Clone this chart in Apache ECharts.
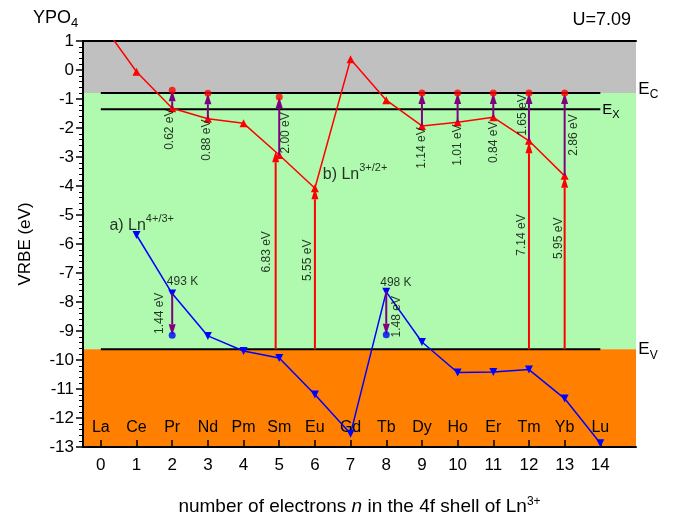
<!DOCTYPE html>
<html><head><meta charset="utf-8">
<script src="https://cdn.jsdelivr.net/npm/echarts@6/dist/echarts.min.js"></script>
<style>html,body{margin:0;padding:0;background:#fff}#c{width:680px;height:517px}</style>
</head><body><div id="c"></div>
<script>
// ---- data ----
const elements = ['La','Ce','Pr','Nd','Pm','Sm','Eu','Gd','Tb','Dy','Ho','Er','Tm','Yb','Lu'];
const nTicks = [0,1,2,3,4,5,6,7,8,9,10,11,12,13,14];
const EC = -0.79, EX = -1.35, EV = -9.63;
// Ln3+/2+ levels (n = 0..13)
const ln32N = [0,1,2,3,4,5,6,7,8,9,10,11,12,13];
const ln32Values = [1.65,-0.06,-1.32,-1.68,-1.84,-2.93,-4.08,0.37,-1.04,-1.93,-1.80,-1.63,-2.44,-3.65];
// Ln4+/3+ levels (n = 1..14)
const ln43N = [1,2,3,4,5,6,7,8,9,10,11,12,13,14];
const ln43Values = [-5.69,-7.71,-9.17,-9.69,-9.93,-11.19,-12.54,-7.65,-9.38,-10.43,-10.41,-10.33,-11.33,-12.87];
// Ln2+ -> CB transitions (purple up arrows)
const ctN = [2,3,5,9,10,11,12,13];
const ctEnergy = [0.62,0.88,2.00,1.14,1.01,0.84,1.65,2.86];
const ctLabelAt = [[1.94,-2.04],[2.96,-2.42],[5.17,-2.17],[8.98,-2.69],[9.99,-2.59],[11.0,-2.49],[11.82,-1.55],[13.25,-2.24]];
// VB -> Ln3+ charge transfer (red up arrows)
const vbN = [4.9,6,12,13];
const vbEnergy = [6.83,5.55,7.14,5.95];
const vbLabelAt = [[4.64,-6.27],[5.80,-6.56],[11.79,-5.69],[12.83,-5.80]];
// Ln3+ hole trap depths (purple down arrows)
const ivN = [2,8];
const ivEnergy = [1.44,1.48];
const ivLabelAt = [[1.64,-8.39],[8.30,-8.51]];
const ivTemp = ['493 K','498 K'];
const ivTempAt = [[2.29,-7.31],[8.27,-7.32]];

const FONT = '"Liberation Sans", Arial, sans-serif';
const X_MIN = -0.5, X_MAX = 15, Y_MIN = -13, Y_MAX = 1;

const ln32 = ln32N.map((n,i)=>[n, ln32Values[i]]);
const ln43 = ln43N.map((n,i)=>[n, ln43Values[i]]);
const v32 = n => ln32Values[ln32N.indexOf(n)];
const v43 = n => ln43Values[ln43N.indexOf(n)];
const r2 = v => Math.round(v*100)/100;

const ctArrows = ctN.map((n,i)=>[n, v32(n), r2(v32(n)+ctEnergy[i])]);
const ctDots = ctN.map((n,i)=>[n, r2(v32(n)+ctEnergy[i])]);
const vbArrows = vbN.map((n,i)=>[n, EV, r2(EV+vbEnergy[i])]);
const ivArrows = ivN.map((n,i)=>[n, v43(n), r2(v43(n)-ivEnergy[i])]);
const ivDots = ivN.map((n,i)=>[n, r2(v43(n)-ivEnergy[i])]);

const rotLabels = [];
ctN.forEach((n,i)=>rotLabels.push([ctLabelAt[i][0], ctLabelAt[i][1], ctEnergy[i].toFixed(2)+' eV']));
vbN.forEach((n,i)=>rotLabels.push([vbLabelAt[i][0], vbLabelAt[i][1], vbEnergy[i].toFixed(2)+' eV']));
ivN.forEach((n,i)=>rotLabels.push([ivLabelAt[i][0], ivLabelAt[i][1], ivEnergy[i].toFixed(2)+' eV']));
const tempLabels = ivN.map((n,i)=>[ivTempAt[i][0], ivTempAt[i][1], ivTemp[i]]);

const supRich = (size, supSize, raise) => ({
  m: {fontSize: size, fontFamily: FONT, fontWeight: 'normal', color: '#000', verticalAlign: 'bottom'},
  i: {fontSize: size, fontFamily: FONT, fontWeight: 'normal', color: '#000', fontStyle: 'italic', verticalAlign: 'bottom'},
  s: {fontSize: supSize, fontFamily: FONT, fontWeight: 'normal', color: '#000', verticalAlign: 'top', padding: [0,0,raise,0]}
});
const subRich = (size, subSize, drop) => ({
  m: {fontSize: size, fontFamily: FONT, fontWeight: 'normal', color: '#000', verticalAlign: 'top'},
  s: {fontSize: subSize, fontFamily: FONT, fontWeight: 'normal', color: '#000', verticalAlign: 'bottom', padding: [drop,0,0,0]}
});

function arrowSeries(name, data, color, z) {
  return {
    type: 'custom', name, z, coordinateSystem: 'cartesian2d', silent: true, clip: false,
    dimensions: ['x','from','to'], encode: {x: 0, y: [1, 2]}, data,
    renderItem: (params, api) => {
      const x = api.value(0), a = api.value(1), b = api.value(2);
      const p1 = api.coord([x, a]), p2 = api.coord([x, b]);
      const dir = p2[1] > p1[1] ? 1 : -1;
      const L = 11, W = 3.5;
      const by = p2[1] - dir * L;
      return {type: 'group', children: [
        {type: 'line', shape: {x1: p1[0], y1: p1[1], x2: p2[0], y2: by}, style: {stroke: color, lineWidth: 2}},
        {type: 'polygon', shape: {points: [[p2[0], p2[1]], [p2[0]-W, by], [p2[0]+W, by]]}, style: {fill: color}}
      ]};
    }
  };
}

const chart = echarts.init(document.getElementById('c'));
chart.setOption({
  animation: false,
  textStyle: {fontFamily: FONT},
  title: [
    {text: '{m|YPO}{s|4}', left: 28, top: 4, textStyle: {fontWeight: 'normal', rich: subRich(18, 13, 8)}},
    {text: 'U=7.09', right: 44, top: 6, textStyle: {fontSize: 18, fontWeight: 'normal', fontFamily: FONT, color: '#000'}}
  ],
  grid: {left: 83, right: 44, top: 41, bottom: 70, containLabel: false, outerBoundsMode: 'none'},
  xAxis: [
    {type: 'value', min: X_MIN, max: X_MAX, position: 'bottom',
     axisLine: {onZero: false, lineStyle: {color: '#000', width: 2}},
     axisTick: {inside: true, length: 7, customValues: nTicks, lineStyle: {color: '#000', width: 1.5}},
     axisLabel: {customValues: nTicks, fontSize: 17, color: '#000', margin: 10, fontFamily: FONT},
     splitLine: {show: false},
     name: '{m|number of electrons }{i|n}{m| in the 4f shell of Ln}{s|3+}',
     nameLocation: 'middle', nameGap: 49,
     nameTextStyle: {rich: supRich(19, 12, 8)}},
    {type: 'value', min: X_MIN, max: X_MAX, position: 'bottom',
     axisLine: {show: false, onZero: false}, axisTick: {show: false}, splitLine: {show: false},
     axisLabel: {inside: true, customValues: nTicks, margin: 11, fontSize: 16, color: '#000', fontFamily: FONT,
                 formatter: v => elements[Math.round(v)]}},
    {type: 'value', min: X_MIN, max: X_MAX, position: 'top',
     axisLine: {show: true, onZero: false, lineStyle: {color: '#000', width: 2}},
     axisTick: {show: false}, axisLabel: {show: false}, splitLine: {show: false}}
  ],
  yAxis: {type: 'value', min: Y_MIN, max: Y_MAX, interval: 1,
    axisLine: {show: true, onZero: false, lineStyle: {color: '#000', width: 2}},
    axisTick: {show: true, length: 7, lineStyle: {color: '#000', width: 1.5}},
    minorTick: {show: true, splitNumber: 5, length: 4, lineStyle: {color: '#000', width: 1}},
    axisLabel: {fontSize: 17, color: '#000', margin: 9, fontFamily: FONT},
    splitLine: {show: false},
    name: 'VRBE (eV)', nameLocation: 'middle', nameGap: 49,
    nameTextStyle: {fontSize: 17, color: '#000', fontFamily: FONT}},
  series: [
    {type: 'line', name: 'bands', z: 0, data: [[X_MIN, EC]], symbol: 'none', silent: true,
     markArea: {silent: true, z: 0, data: [
       [{coord: [X_MIN, EC], itemStyle: {color: '#c0c0c0'}}, {coord: [X_MAX, Y_MAX]}],
       [{coord: [X_MIN, EV], itemStyle: {color: '#b0fab0'}}, {coord: [X_MAX, EC]}],
       [{coord: [X_MIN, Y_MIN], itemStyle: {color: '#ff8000'}}, {coord: [X_MAX, EV]}]
     ]}},
    {type: 'line', name: 'Ec', z: 3, data: [[0, EC],[14, EC]], symbol: 'none', lineStyle: {color: '#000', width: 2}, silent: true,
     endLabel: {show: true, distance: 38, offset: [0, -2], formatter: '{m|E}{s|C}', rich: subRich(17, 12, 8)}},
    {type: 'line', name: 'Ex', z: 3, data: [[0, EX],[14, EX]], symbol: 'none', lineStyle: {color: '#000', width: 2}, silent: true,
     endLabel: {show: true, distance: 2, offset: [0, 2], formatter: '{m|E}{s|X}', rich: subRich(15, 11, 7)}},
    {type: 'line', name: 'Ev', z: 3, data: [[0, EV],[14, EV]], symbol: 'none', lineStyle: {color: '#000', width: 2}, silent: true,
     endLabel: {show: true, distance: 38, offset: [0, 2], formatter: '{m|E}{s|V}', rich: subRich(17, 12, 8)}},
    arrowSeries('VB→Ln3+', vbArrows, '#ff0000', 4),
    {type: 'line', name: 'Ln3+/2+', z: 5, data: ln32, clip: true, symbol: 'triangle', symbolSize: 8,
     itemStyle: {color: '#ff0000'}, lineStyle: {color: '#ff0000', width: 1.5}},
    {type: 'line', name: 'Ln4+/3+', z: 5, data: ln43, clip: true, symbol: 'triangle', symbolRotate: 180, symbolSize: 8,
     itemStyle: {color: '#0000ff'}, lineStyle: {color: '#0000ff', width: 1.5}},
    arrowSeries('Ln2+→CB', ctArrows, '#800080', 6),
    arrowSeries('hole', ivArrows, '#800080', 6),
    {type: 'scatter', name: 'CB dots', z: 7, data: ctDots, symbol: 'circle', symbolSize: 7, itemStyle: {color: '#ff0000'}},
    {type: 'scatter', name: 'hole dots', z: 7, data: ivDots, symbol: 'circle', symbolSize: 7, itemStyle: {color: '#0000ff'}},
    {type: 'scatter', name: 'energy labels', z: 8, clip: false, silent: true, data: rotLabels, symbolSize: 0,
     label: {show: true, position: 'inside', rotate: 90, fontSize: 12, color: '#000', fontFamily: FONT,
             formatter: p => p.value[2]}},
    {type: 'scatter', name: 'temp labels', z: 8, clip: false, silent: true, data: tempLabels, symbolSize: 0,
     label: {show: true, position: 'inside', fontSize: 12, color: '#000', fontFamily: FONT,
             formatter: p => p.value[2]}},
    {type: 'scatter', name: 'series labels', z: 8, clip: false, silent: true, symbolSize: 0,
     data: [[0.24, -5.28, '{m|a) Ln}{s|4+/3+}'], [6.22, -3.55, '{m|b) Ln}{s|3+/2+}']],
     label: {show: true, position: 'inside', align: 'left', formatter: p => p.value[2], rich: supRich(16, 11, 9)}}
  ]
});
</script></body></html>
